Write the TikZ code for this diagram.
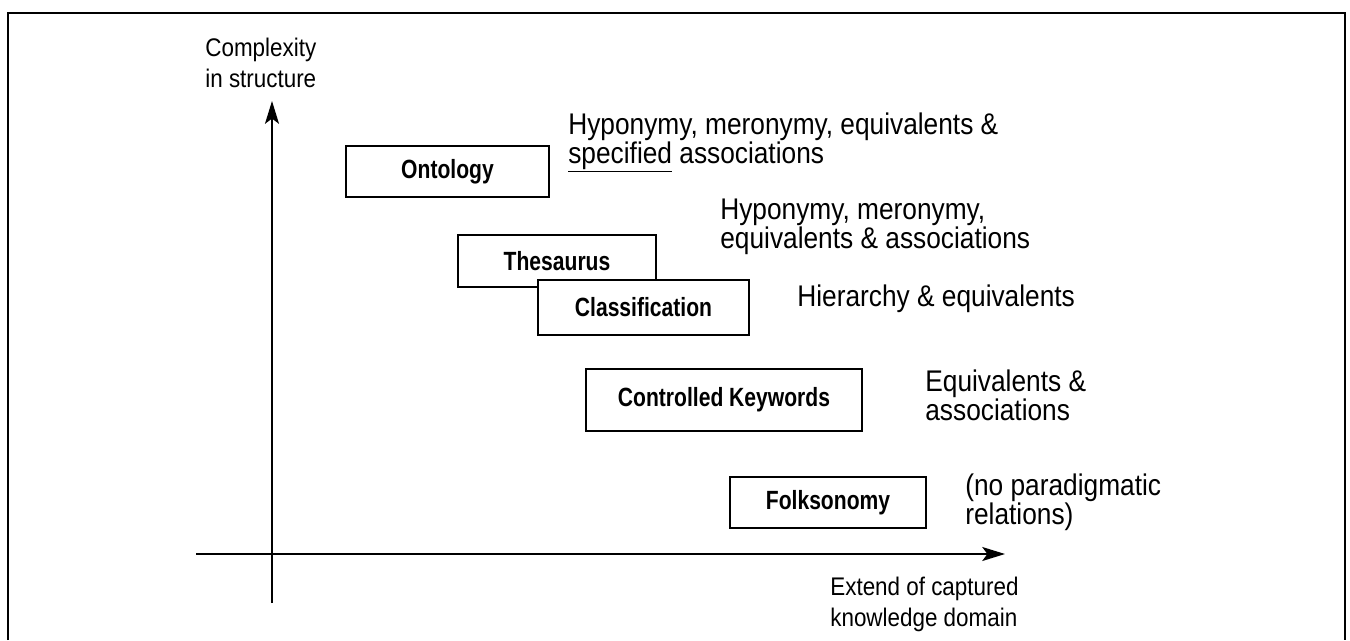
\documentclass[tikz,border=0pt]{standalone}
\usepackage{fontspec}
\setmainfont{Liberation Sans}[FakeStretch=0.88,BoldFeatures={FakeStretch=0.8}]
\usepackage{tikz}
\usetikzlibrary{arrows.meta}
\tikzset{concept/.style={draw,line width=0.8pt,fill=white,inner sep=0pt,font=\fontsize{15}{17}\selectfont\bfseries},
  relation/.style={anchor=base west,align=left,inner sep=0pt,font=\fontsize{17}{16.5}\selectfont},
  axislabel/.style={anchor=base west,align=left,inner sep=0pt,font=\fontsize{14.5}{17.4}\selectfont},
  axisline/.style={line width=0.8pt,-{Stealth[length=13pt,width=8pt,inset=3pt]}}}
\begin{document}
\begin{tikzpicture}[x=0.02cm,y=-0.02cm]
\useasboundingbox (0,0) rectangle (1350,640);
\draw[line width=1.1pt] (8,640) |- (1345,13) -- (1345,640);
\coordinate (yb) at (272,603); \coordinate (yt) at (272,101);
\coordinate (xl) at (196,554); \coordinate (xr) at (1005,554);
\draw[axisline] (yb) -- (yt); \draw[axisline] (xl) -- (xr);
\node[axislabel] (ylab) at (205,87) {Complexity\\in structure};
\node[axislabel] (xlab) at (830,626) {Extend of captured\\knowledge domain};
\node[concept,minimum width=4.06cm,minimum height=1.02cm] (onto) at (447.5,171.5) {Ontology};
\node[concept,minimum width=3.96cm,minimum height=1.04cm] (thes) at (557,261) {Thesaurus};
\node[concept,minimum width=4.22cm,minimum height=1.10cm] (clas) at (643.5,307.5) {Classification};
\node[concept,minimum width=5.52cm,minimum height=1.24cm] (ckw) at (724,400) {Controlled Keywords};
\node[concept,minimum width=3.92cm,minimum height=1.02cm] (folk) at (828,502.5) {Folksonomy};
\node[relation] (ontorel) at (568,163) {Hyponymy, meronymy, equivalents \&\\\underline{specified} associations};
\node[relation] (thesrel) at (720,248) {Hyponymy, meronymy,\\equivalents \& associations};
\node[relation] (clasrel) at (797,306) {Hierarchy \& equivalents};
\node[relation] (ckwrel) at (925,420) {Equivalents \&\\associations};
\node[relation] (folkrel) at (965,524) {(no paradigmatic\\relations)};
\end{tikzpicture}
\end{document}
